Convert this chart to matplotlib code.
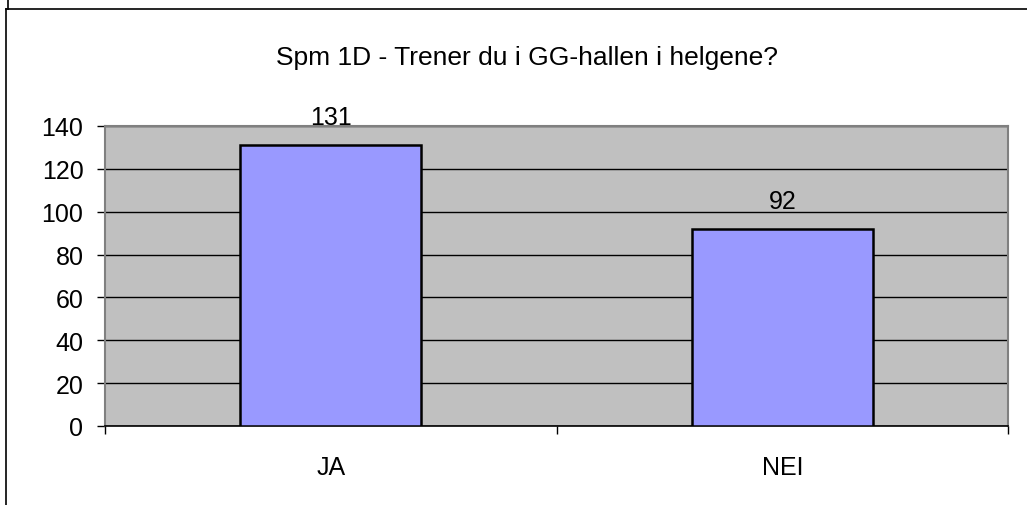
import matplotlib.pyplot as plt
from matplotlib.lines import Line2D

categories = ['JA', 'NEI']
counts = [131, 92]
title = 'Spm 1D - Trener du i GG-hallen i helgene?'
y_ticks = [0, 20, 40, 60, 80, 100, 120, 140]

plt.rcParams['font.family'] = ['Liberation Sans', 'DejaVu Sans']

W, H = 1027, 506
fs = 18
fig = plt.figure(figsize=(W / 100, H / 100), dpi=100)
fig.patch.set_facecolor('white')

# plot area in pixel coordinates: left 105, right 1008, top 127, bottom 427
left, right, top, bottom = 105, 1008, 127, 427
ax = fig.add_axes([left / W, 1 - bottom / H, (right - left) / W, (bottom - top) / H])
ax.set_facecolor('#C0C0C0')

x = list(range(len(categories)))
ax.bar(x, counts, width=0.4, color='#9999FF', edgecolor='black', linewidth=1.8, zorder=3)
for xi, v in zip(x, counts):
    ax.text(xi, v + 13, str(v), ha='center', va='center', fontsize=fs, zorder=4, clip_on=False)

ax.set_xlim(-0.5, len(categories) - 0.5)
ax.set_ylim(0, 140)
ax.set_yticks(y_ticks)
ax.set_yticklabels([str(t) for t in y_ticks], fontsize=fs)
ax.yaxis.grid(True, color='black', linewidth=1.0, zorder=1)
ax.set_axisbelow(True)

# category labels centred, tick marks at category boundaries
ax.set_xticks(x)
ax.set_xticklabels(categories, fontsize=fs)
ax.tick_params(axis='x', length=0, pad=21)
ax.set_xticks([-0.5, 0.5, 1.5], minor=True)
ax.tick_params(axis='x', which='minor', length=5.5, width=1, color='black')
ax.tick_params(axis='y', length=5.5, width=1, color='black', pad=10)

for side in ['top', 'right', 'left']:
    ax.spines[side].set_color('#808080')
    ax.spines[side].set_linewidth(1.5)
ax.spines['bottom'].set_color('black')
ax.spines['bottom'].set_linewidth(1.2)

fig.text(527 / W, 1 - 58 / H, title, ha='center', va='center', fontsize=19)

# chart object border
fig.add_artist(Line2D([6 / W, 1], [1 - 10 / H, 1 - 10 / H], color='black', linewidth=1.2))
fig.add_artist(Line2D([6 / W, 6 / W], [0, 1 - 10 / H], color='black', linewidth=1.2))
fig.add_artist(Line2D([8 / W, 8 / W], [1 - 10 / H, 1], color='black', linewidth=1.2))

fig.savefig('out.png', dpi=100)
